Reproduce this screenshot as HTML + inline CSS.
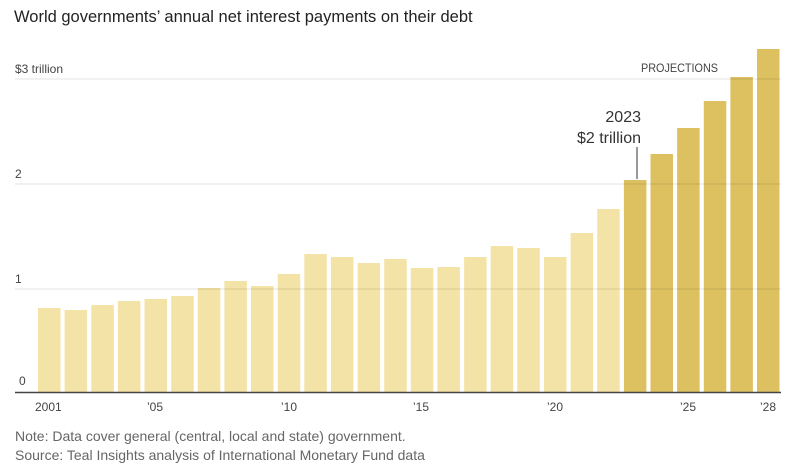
<!DOCTYPE html>
<html><head><meta charset="utf-8"><style>
body{margin:0;background:#fff;width:793px;height:468px;overflow:hidden;font-family:"Liberation Sans",sans-serif}
</style></head><body>
<svg width="793" height="468" xmlns="http://www.w3.org/2000/svg" font-family="Liberation Sans, sans-serif">
<text x="14" y="22" font-size="16.5" fill="#222">World governments’ annual net interest payments on their debt</text>
<g id="bars"></g>
<g stroke="#000" stroke-opacity="0.09" stroke-width="1.3">
<line x1="15" x2="781" y1="79" y2="79"/>
<line x1="15" x2="781" y1="184" y2="184"/>
<line x1="15" x2="781" y1="289" y2="289"/>
</g>
<line x1="15" x2="781" y1="392.5" y2="392.5" stroke="#444" stroke-width="1.5"/>
<g font-size="12" fill="#444">
<text x="15" y="73">$3 trillion</text>
<text x="15" y="178">2</text>
<text x="15" y="283">1</text>
<text x="19" y="385">0</text>
<text x="35" y="411">2001</text>
<text x="147" y="411">’05</text>
<text x="281" y="411">’10</text>
<text x="413" y="411">’15</text>
<text x="547" y="411">’20</text>
<text x="680" y="411">’25</text>
<text x="760" y="411">’28</text>
<text x="641" y="72" textLength="77" lengthAdjust="spacingAndGlyphs">PROJECTIONS</text>
</g>
<g font-size="16" fill="#333" text-anchor="end">
<text x="641" y="122">2023</text>
<text x="641" y="143">$2 trillion</text>
</g>
<line x1="637" x2="637" y1="147" y2="179" stroke="#555" stroke-width="1.2"/>
<g font-size="14" fill="#666">
<text x="15" y="441">Note: Data cover general (central, local and state) government.</text>
<text x="15" y="460">Source: Teal Insights analysis of International Monetary Fund data</text>
</g>
</svg>
<script>
var tops=[308,310,305,301,299,296,288,281,286,274,254,257,263,259,268,267,257,246,248,257,233,209,180,154,128,101,77,49];
var g=document.getElementById('bars'),s='';
for(var i=0;i<28;i++){var x=38+i*26.63;var c=i>=22?'#ddc160':'#f3e3a6';
s+='<rect x="'+x.toFixed(1)+'" y="'+tops[i]+'" width="22.5" height="'+(392-tops[i])+'" fill="'+c+'"/>';}
g.innerHTML=s;
</script>
</body></html>
